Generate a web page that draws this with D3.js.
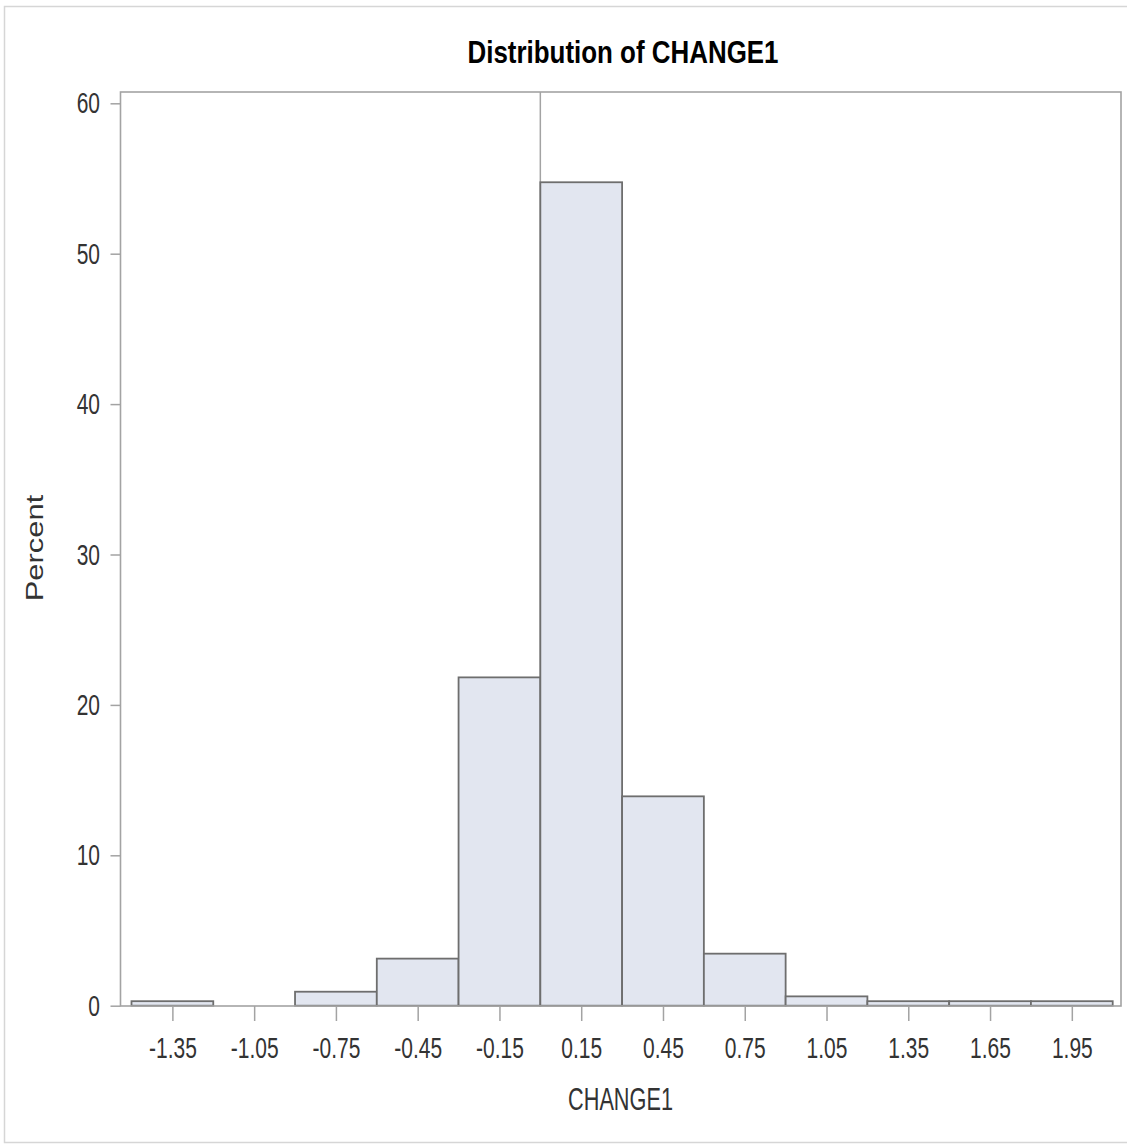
<!DOCTYPE html>
<html>
<head>
<meta charset="utf-8">
<script src="https://cdn.jsdelivr.net/npm/d3@7"></script>
<style>
  body { margin: 0; background: #fff; }
  text { font-family: "Liberation Sans", Arial, sans-serif; }
</style>
</head>
<body>
<div id="chart"></div>
<script>
// histogram bins (midpoints), width 0.3
const binMids = [-1.35, -1.05, -0.75, -0.45, -0.15, 0.15, 0.45, 0.75, 1.05, 1.35, 1.65, 1.95];
const percents = [0.3, 0, 0.93, 3.13, 21.83, 54.75, 13.92, 3.46, 0.62, 0.3, 0.3, 0.3];
const xTickLabels = ["-1.35", "-1.05", "-0.75", "-0.45", "-0.15", "0.15", "0.45", "0.75", "1.05", "1.35", "1.65", "1.95"];
const yTicks = [0, 10, 20, 30, 40, 50, 60];
const binWidth = 0.3;
const refLine = 0;

const W = 1127, H = 1145;
const frame = {left: 120.5, right: 1121, top: 92, bottom: 1006};
const sx = 0.70; // narrow look of the original

const svg = d3.select("#chart")
    .append("svg")
    .attr("width", W)
    .attr("height", H);

// outer border
svg.append("rect")
    .attr("x", 4.5).attr("y", 6.5)
    .attr("width", 1130).attr("height", 1136)
    .attr("fill", "none")
    .attr("stroke", "#d6d6d6")
    .attr("stroke-width", 1.5);

const xScale = d3.scaleLinear()
    .domain([binMids[0] - binWidth / 2, binMids[binMids.length - 1] + binWidth / 2])
    .range([131.5, 1112.7]);

const yScale = d3.scaleLinear()
    .domain([0, 60])
    .range([1005.7, 103.3]);

// reference line at 0 (behind bars)
svg.append("line")
    .attr("x1", xScale(refLine)).attr("x2", xScale(refLine))
    .attr("y1", frame.top).attr("y2", frame.bottom)
    .attr("stroke", "#a3a3a3")
    .attr("stroke-width", 1.5);

// bars
svg.selectAll(".bar")
    .data(binMids)
    .join("rect")
    .attr("class", "bar")
    .attr("x", d => xScale(d - binWidth / 2))
    .attr("width", d => xScale(d + binWidth / 2) - xScale(d - binWidth / 2))
    .attr("y", (d, i) => yScale(percents[i]))
    .attr("height", (d, i) => yScale(0) - yScale(percents[i]))
    .attr("fill", d => "#e2e6f0")
    .attr("stroke", (d, i) => percents[i] > 0 ? "#6e6e6e" : "none")
    .attr("stroke-width", 1.8);

// frame
svg.append("rect")
    .attr("x", frame.left).attr("y", frame.top)
    .attr("width", frame.right - frame.left)
    .attr("height", frame.bottom - frame.top)
    .attr("fill", "none")
    .attr("stroke", "#a3a3a3")
    .attr("stroke-width", 1.6);

// x axis
const xAxis = d3.axisBottom(xScale)
    .tickValues(binMids)
    .tickFormat((d, i) => xTickLabels[i])
    .tickSize(15)
    .tickSizeOuter(0)
    .tickPadding(16);

const xAxGr = svg.append("g")
    .attr("transform", "translate(0," + frame.bottom + ")")
    .call(xAxis);
xAxGr.select(".domain").remove();
xAxGr.selectAll("line").attr("stroke", "#a3a3a3").attr("stroke-width", 1.5);
xAxGr.selectAll("text")
    .attr("font-size", 30)
    .attr("fill", "#333")
    .attr("font-family", "Liberation Sans, Arial, sans-serif")
    .attr("transform", "scale(" + sx + ",1)");

// y axis
const yAxis = d3.axisLeft(yScale)
    .tickValues(yTicks)
    .tickSize(10)
    .tickSizeOuter(0)
    .tickPadding(10);

const yAxGr = svg.append("g")
    .attr("transform", "translate(" + frame.left + ",0)")
    .call(yAxis);
yAxGr.select(".domain").remove();
yAxGr.selectAll("line").attr("stroke", "#a3a3a3").attr("stroke-width", 1.5);
yAxGr.selectAll("text")
    .attr("font-size", 30)
    .attr("fill", "#333")
    .attr("font-family", "Liberation Sans, Arial, sans-serif")
    .attr("x", -20.5 / sx)
    .attr("transform", "scale(" + sx + ",1)");

// title
svg.append("text")
    .attr("transform", "translate(623,63) scale(0.85,1)")
    .attr("text-anchor", "middle")
    .attr("font-size", 30.5)
    .attr("font-weight", "bold")
    .attr("fill", "#000")
    .text("Distribution of CHANGE1");

// x label
svg.append("text")
    .attr("transform", "translate(620.5,1110) scale(0.70,1)")
    .attr("text-anchor", "middle")
    .attr("font-size", 31)
    .attr("fill", "#333")
    .text("CHANGE1");

// y label
svg.append("text")
    .attr("transform", "translate(43,548) rotate(-90) scale(1.33,1)")
    .attr("text-anchor", "middle")
    .attr("font-size", 23.3)
    .attr("fill", "#333")
    .text("Percent");
</script>
</body>
</html>
